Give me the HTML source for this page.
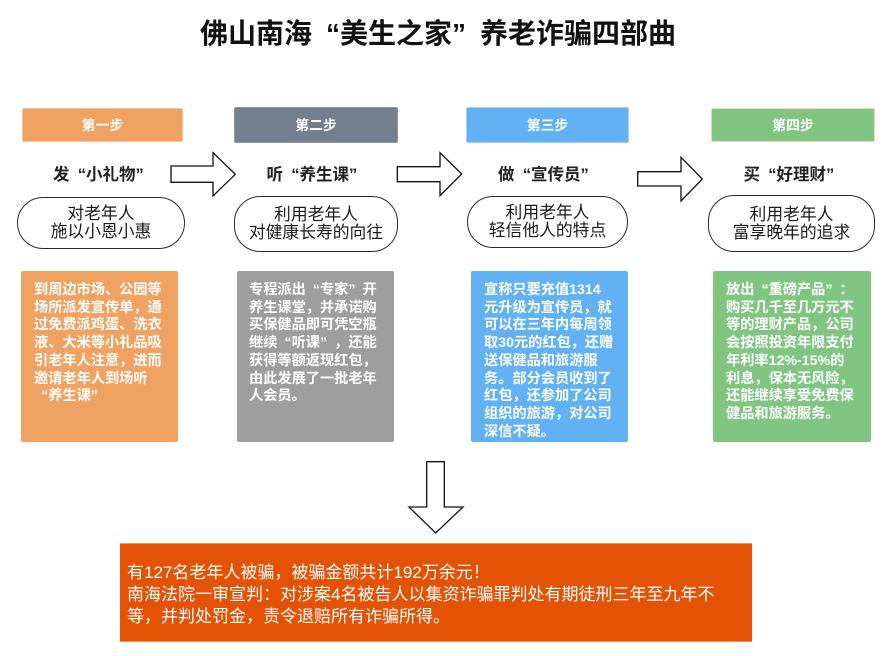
<!DOCTYPE html>
<html>
<head>
<meta charset="utf-8">
<style>
  html,body{margin:0;padding:0;background:#fff;}
  body{width:891px;height:656px;position:relative;overflow:hidden;
       font-family:"Liberation Sans","Noto Sans CJK SC",sans-serif;}
  .abs{position:absolute;}
  .q1,.q2{display:inline-block;width:1em;}
  .q1{text-align:right;}
  .q2{text-align:left;}
  .title{left:0;width:876px;top:16px;text-align:center;font-size:28px;font-weight:bold;color:#111;line-height:36px;white-space:nowrap;}
  .hdr{height:34px;line-height:34px;text-align:center;color:#fff;font-weight:bold;font-size:13.8px;border-radius:2px;box-sizing:border-box;}
  .sub{text-align:center;font-weight:bold;font-size:16.5px;color:#222;line-height:20px;white-space:nowrap;top:165px;}
  .pill{box-sizing:border-box;border:1.5px solid #2a2a2a;border-radius:26px;background:#fff;display:flex;align-items:center;justify-content:center;text-align:center;font-size:16.8px;line-height:18px;color:#1a1a1a;white-space:nowrap;}
  .desc{top:271px;height:171px;width:157px;box-sizing:border-box;padding:11px 0 0 13px;color:#fff;font-weight:bold;font-size:14.2px;line-height:17.7px;white-space:nowrap;border-radius:2px;}
  .bottom{left:120px;top:543px;width:632px;height:99px;background:#E35205;box-sizing:border-box;border-top:1px solid #F0936A;border-bottom:1px solid #F0936A;color:#fff;font-size:17px;line-height:22px;padding:18px 0 0 7px;white-space:nowrap;}
</style>
</head>
<body>

<div class="abs title">佛山南海<span class="q1">“</span>美生之家<span class="q2">”</span>养老诈骗四部曲</div>

<!-- step headers -->
<div class="abs hdr" style="left:22px;top:108px;width:161px;background:#F0A262;border:1px solid #F6C49A;">第一步</div>
<div class="abs hdr" style="left:234px;top:107px;width:164px;height:36px;line-height:36px;background:#737F8F;border:1px solid #8F99A6;">第二步</div>
<div class="abs hdr" style="left:466px;top:107px;width:163px;height:36px;line-height:36px;background:#62B1F2;border:1px solid #A3CFF6;">第三步</div>
<div class="abs hdr" style="left:711px;top:108px;width:164px;background:#80C682;border:1px solid #F4D3B0;">第四步</div>

<!-- subtitles -->
<div class="abs sub" style="left:22px;width:161px;">发<span class="q1">“</span>小礼物<span class="q2">”</span></div>
<div class="abs sub" style="left:234px;width:164px;">听<span class="q1">“</span>养生课<span class="q2">”</span></div>
<div class="abs sub" style="left:466px;width:163px;">做<span class="q1">“</span>宣传员<span class="q2">”</span></div>
<div class="abs sub" style="left:711px;width:164px;">买<span class="q1">“</span>好理财<span class="q2">”</span></div>

<!-- arrows -->
<svg class="abs" style="left:0;top:0;" width="891" height="656" viewBox="0 0 891 656">
  <g fill="#fff" stroke="#111" stroke-width="1.3" stroke-linejoin="miter">
    <polygon points="171,166 213,166 213,152.7 235.3,174.3 213,196 213,182.3 171,182.3"/>
    <polygon points="397.3,166.7 440,166.7 440,152.7 461.7,174 440,195.7 440,181.7 397.3,181.7"/>
    <polygon points="637.7,171.7 681,171.7 681,157.3 702.3,179 681,201 681,186 637.7,186"/>
    <polygon points="426.7,461.7 444.3,461.7 444.3,507 463,507 435.7,533 409,507 426.7,507"/>
  </g>
</svg>

<!-- pills -->
<div class="abs pill" style="left:17px;top:197px;width:168px;height:52px;">对老年人<br>施以小恩小惠</div>
<div class="abs pill" style="left:234px;top:196px;width:164px;height:56px;">利用老年人<br>对健康长寿的向往</div>
<div class="abs pill" style="left:467px;top:196px;width:161px;height:52px;">利用老年人<br>轻信他人的特点</div>
<div class="abs pill" style="left:708px;top:195px;width:167px;height:57px;">利用老年人<br>富享晚年的追求</div>

<!-- description boxes -->
<div class="abs desc" style="left:21px;background:#F0A262;">到周边市场、公园等<br>场所派发宣传单，通<br>过免费派鸡蛋、洗衣<br>液、大米等小礼品吸<br>引老年人注意，进而<br>邀请老年人到场听<br><span class="q1">“</span>养生课<span class="q2">”</span></div>
<div class="abs desc" style="left:237px;padding-left:12px;background:#9E9E9E;">专程派出<span class="q1">“</span>专家<span class="q2">”</span>开<br>养生课堂，并承诺购<br>买保健品即可凭空瓶<br>继续<span class="q1">“</span>听课<span class="q2">”</span>，还能<br>获得等额返现红包，<br>由此发展了一批老年<br>人会员。</div>
<div class="abs desc" style="left:471px;background:#62B1F2;">宣称只要充值1314<br>元升级为宣传员，就<br>可以在三年内每周领<br>取30元的红包，还赠<br>送保健品和旅游服<br>务。部分会员收到了<br>红包，还参加了公司<br>组织的旅游，对公司<br>深信不疑。</div>
<div class="abs desc" style="left:713px;width:158px;background:#80C682;">放出<span class="q1">“</span>重磅产品<span class="q2">”</span>：<br>购买几千至几万元不<br>等的理财产品，公司<br>会按照投资年限支付<br>年利率12%-15%的<br>利息，保本无风险，<br>还能继续享受免费保<br>健品和旅游服务。</div>

<!-- bottom box -->
<div class="abs bottom">有127名老年人被骗，被骗金额共计192万余元！<br>南海法院一审宣判：对涉案4名被告人以集资诈骗罪判处有期徒刑三年至九年不<br>等，并判处罚金，责令退赔所有诈骗所得。</div>

</body>
</html>
